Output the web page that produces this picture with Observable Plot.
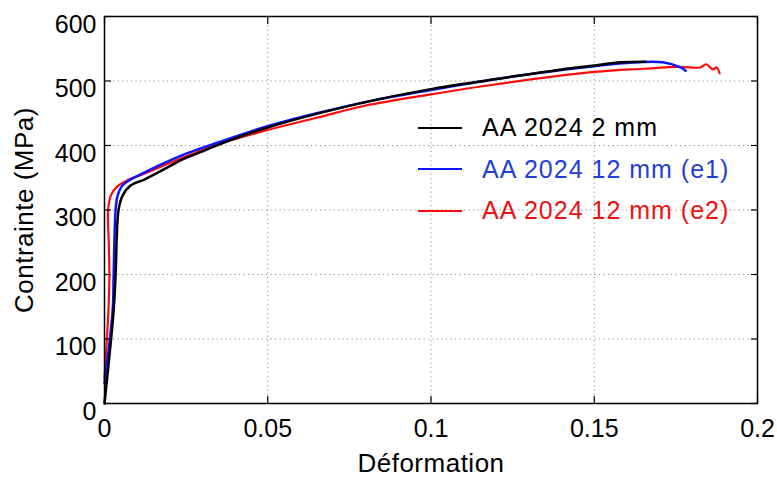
<!DOCTYPE html>
<html>
<head>
<meta charset="utf-8">
<script src="https://cdn.jsdelivr.net/npm/d3@7"></script>
<script src="https://cdn.jsdelivr.net/npm/@observablehq/plot@0.6"></script>
<style>
  body { margin: 0; background: white; }
  #wrap { position: relative; width: 777px; height: 477px; }
  #wrap svg { position: absolute; left: 0; top: 0; }
  g[aria-label="x-axis label"] text, g[aria-label="y-axis label"] text { font-size: 26px; letter-spacing: 0.5px; }
  .legend { position: absolute; left: 418px; top: 107px; font-family: "Liberation Sans", Arial, sans-serif; font-size: 25px; letter-spacing: 1px; }
  .legend .row { display: flex; align-items: center; height: 41.5px; }
  .legend .sw { display: inline-block; width: 44px; height: 1.6px; margin-right: 20px; }
</style>
</head>
<body>
<div id="wrap"></div>
<script>
// Series names and colours
const seriesNames = ["AA 2024 2 mm", "AA 2024 12 mm (e1)", "AA 2024 12 mm (e2)"];
const seriesColors = ["#000000", "#0a14ff", "#ff0a0a"];
const legendTextColors = ["#000000", "#1f3fd6", "#ee1111"];

// AA 2024 2 mm (black)
const strain2mm = [0, 0.0028, 0.0034, 0.0043, 0.0055, 0.008, 0.0125, 0.02, 0.0233, 0.03, 0.04, 0.05, 0.065, 0.0824, 0.0995, 0.12, 0.14, 0.15, 0.158, 0.1657];
const stress2mm = [0, 144, 200, 300, 322, 338, 348, 368, 377, 391, 411, 428, 449, 470, 487, 503, 518, 524, 529, 530];

// AA 2024 12 mm (e1) (blue)
const strainE1 = [0, 0.0025, 0.0028, 0.0034, 0.004, 0.0055, 0.009, 0.015, 0.0233, 0.035, 0.05, 0.065, 0.0824, 0.1, 0.12, 0.14, 0.15, 0.16, 0.171, 0.1764, 0.178];
const stressE1 = [31, 144, 200, 300, 322, 338, 350, 365, 384, 405, 430, 450, 470, 486, 503, 517, 523, 528, 529, 521, 516];

// AA 2024 12 mm (e2) (red)
const strainE2 = [0, 0.0012, 0.0015, 0.0013, 0.0011, 0.002, 0.004, 0.007, 0.012, 0.0233, 0.035, 0.05, 0.065, 0.08, 0.0995, 0.12, 0.15, 0.165, 0.176, 0.1825, 0.1843, 0.1863, 0.1875, 0.1884];
const stressE2 = [40, 144, 200, 250, 300, 323, 337, 346, 356, 380, 402, 424, 443, 462, 479, 495, 514, 519, 522, 521, 526, 518, 521, 512];

// Tick values
const xTicks = [0, 0.05, 0.1, 0.15, 0.2];
const xTickLabels = ["0", "0.05", "0.1", "0.15", "0.2"];
const yTicks = [0, 100, 200, 300, 400, 500, 600];

const toRows = (xs, ys, name) => xs.map((x, i) => ({strain: x, stress: ys[i], series: name}));
const rows2mm = toRows(strain2mm, stress2mm, seriesNames[0]);
const rowsE1 = toRows(strainE1, stressE1, seriesNames[1]);
const rowsE2 = toRows(strainE2, stressE2, seriesNames[2]);

const gridStyle = {stroke: "#8a8a8a", strokeOpacity: 1, strokeWidth: 1, strokeDasharray: "1.2,3.3"};
const labelFor = new Map(xTicks.map((t, i) => [t, xTickLabels[i]]));

const chart = Plot.plot({
  width: 777,
  height: 477,
  marginLeft: 104,
  marginRight: 20,
  marginTop: 16,
  marginBottom: 74,
  style: {fontFamily: "'Liberation Sans', Arial, sans-serif", fontSize: "25px", color: "black", background: "white", overflow: "visible"},
  x: {domain: [0, 0.2]},
  y: {domain: [0, 600]},
  marks: [
    Plot.gridX(xTicks, gridStyle),
    Plot.gridY(yTicks, gridStyle),
    Plot.line(rowsE2, {x: "strain", y: "stress", stroke: seriesColors[2], strokeWidth: 2.2, curve: "catmull-rom"}),
    Plot.line(rowsE1, {x: "strain", y: "stress", stroke: seriesColors[1], strokeWidth: 2.5, curve: "catmull-rom"}),
    Plot.line(rows2mm, {x: "strain", y: "stress", stroke: seriesColors[0], strokeWidth: 2.5, curve: "catmull-rom"}),
    Plot.frame({stroke: "black", strokeWidth: 1.5}),
    // inward ticks
    Plot.axisY(yTicks, {anchor: "left", tickSize: 7, dx: 7, text: null, label: null, strokeWidth: 1.2}),
    Plot.axisY(yTicks, {anchor: "right", tickSize: 7, dx: -7, text: null, label: null, strokeWidth: 1.2}),
    Plot.axisX(xTicks, {anchor: "bottom", tickSize: 7, dy: -7, text: null, label: null, strokeWidth: 1.2}),
    Plot.axisX(xTicks, {anchor: "top", tickSize: 7, dy: 7, text: null, label: null, strokeWidth: 1.2}),
    // labels
    Plot.axisY(yTicks, {anchor: "left", tickSize: 0, tickPadding: 8, dy: 8, fontSize: 25, letterSpacing: 1,
      label: "Contrainte (MPa)", labelAnchor: "center", labelArrow: "none", labelOffset: 90}),
    Plot.axisX(xTicks, {anchor: "bottom", tickSize: 0, tickPadding: 16, fontSize: 25, letterSpacing: 1,
      tickFormat: d => labelFor.get(d),
      label: "Déformation", labelAnchor: "center", labelArrow: "none", labelOffset: 68})
  ]
});

const wrap = document.getElementById("wrap");
wrap.appendChild(chart);

// Legend overlay
const legend = document.createElement("div");
legend.className = "legend";
seriesNames.forEach((name, i) => {
  const row = document.createElement("div");
  row.className = "row";
  const sw = document.createElement("span");
  sw.className = "sw";
  sw.style.background = seriesColors[i];
  const tx = document.createElement("span");
  tx.textContent = name;
  tx.style.color = legendTextColors[i];
  row.appendChild(sw);
  row.appendChild(tx);
  legend.appendChild(row);
});
wrap.appendChild(legend);
</script>
</body>
</html>
